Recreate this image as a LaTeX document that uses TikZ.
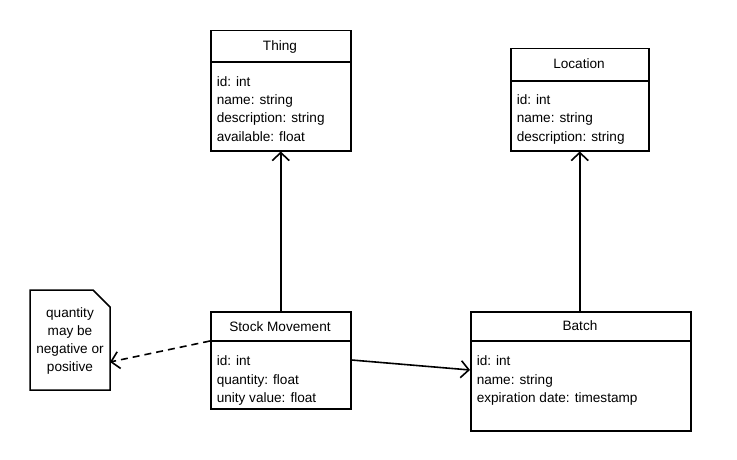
\documentclass[tikz,border=0pt]{standalone}
\usepackage{fontspec}
\setmainfont{Liberation Sans}
\usetikzlibrary{arrows.meta}
\begin{document}
\begin{tikzpicture}[x=1pt,y=-1pt,line width=1.5pt,
  font=\fontsize{13.6}{18}\selectfont,
  cls/.style={draw,line width=1.5pt,anchor=north west,inner sep=0pt},
  ttl/.style={anchor=base,inner sep=0pt},
  attr/.style={anchor=base west,inner sep=0pt},
  link/.style={-{Straight Barb[length=8pt,width=17pt]},line width=1.6pt},
  notelink/.style={link,dash pattern=on 7pt off 5pt}]
\useasboundingbox (0,0) rectangle (737,460);
\fill[white] (0,0) rectangle (737,460);
% Thing
\node[cls,minimum width=140pt,minimum height=120pt] (thing) at (210,30) {};
\draw ([yshift=-32pt]thing.north west) -- ([yshift=-32pt]thing.north east);
\node[ttl] (thingT) at (280,51) {Thing};
\node[attr] (thing1) at (216,87) {id: int};
\node[attr] (thing2) at (216,105) {name: string};
\node[attr] (thing3) at (216,123) {description: string};
\node[attr] (thing4) at (216,141) {available: float};
% Location
\node[cls,minimum width=138pt,minimum height=102pt] (loc) at (510,48) {};
\draw ([yshift=-33pt]loc.north west) -- ([yshift=-33pt]loc.north east);
\node[ttl] (locT) at (579,69) {Location};
\node[attr] (loc1) at (516,105) {id: int};
\node[attr] (loc2) at (516,123) {name: string};
\node[attr] (loc3) at (516,141) {description: string};
% Stock Movement
\node[cls,minimum width=140pt,minimum height=97pt] (sm) at (210,311) {};
\draw ([yshift=-30pt]sm.north west) -- ([yshift=-30pt]sm.north east);
\node[ttl] (smT) at (280,331) {Stock Movement};
\node[attr] (sm1) at (216,365) {id: int};
\node[attr] (sm2) at (216,384) {quantity: float};
\node[attr] (sm3) at (216,402) {unity value: float};
% Batch
\node[cls,minimum width=220pt,minimum height=119pt] (batch) at (470,311) {};
\draw ([yshift=-30pt]batch.north west) -- ([yshift=-30pt]batch.north east);
\node[ttl] (batchT) at (580,330) {Batch};
\node[attr] (batch1) at (476,365) {id: int};
\node[attr] (batch2) at (476,384) {name: string};
\node[attr] (batch3) at (476,402) {expiration date: timestamp};
% Note
\draw (30,290) -- (93,290) -- (110,307) -- (110,390) -- (30,390) -- cycle;
\node[align=center,inner sep=0pt] (note) at (70,341) {quantity\\may be\\negative or\\positive};
\coordinate (noteR) at (110,362);
% connectors
\draw[link] (sm.north) -- (thing.south);
\draw[link] (loc.south |- batch.north) -- (loc.south);
\draw[link] ([yshift=-49pt]sm.north east) -- ([yshift=-59pt]batch.north west);
\draw[notelink] ([yshift=-30pt]sm.north west) -- (noteR);
\end{tikzpicture}
\end{document}
